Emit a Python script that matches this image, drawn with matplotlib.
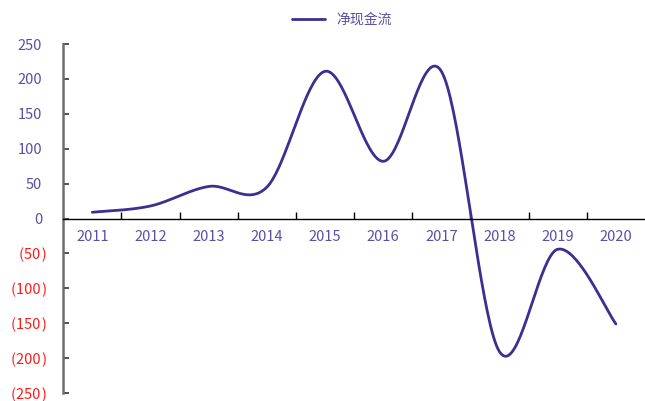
import numpy as np
import matplotlib
matplotlib.use("Agg")
import matplotlib.pyplot as plt
from matplotlib.ticker import FixedLocator
from matplotlib.transforms import blended_transform_factory, offset_copy

plt.rcParams['font.family'] = ['Noto Sans CJK SC', 'DejaVu Sans']

years = ['2011', '2012', '2013', '2014', '2015', '2016', '2017', '2018', '2019', '2020']
net_cash_flow = [9, 18, 46, 45, 211, 82, 211, -191, -44, -151]
y_ticks = [250, 200, 150, 100, 50, 0, -50, -100, -150, -200, -250]
series_name = '净现金流'

line_color = '#3B2F91'
label_color = '#5A4EA6'
neg_color = '#FF1A1A'


def smooth(xs, ys, n=40):
    pts = np.column_stack([xs, ys]).astype(float)
    out = []
    m = len(pts)
    for i in range(m - 1):
        p0 = pts[i]
        p3 = pts[i + 1]
        pm = pts[i - 1] if i > 0 else pts[i]
        pp = pts[i + 2] if i + 2 < m else pts[i + 1]
        p1 = p0 + (p3 - pm) / 6.0
        p2 = p3 - (pp - p0) / 6.0
        t = np.linspace(0, 1, n)[:, None]
        seg = ((1 - t) ** 3) * p0 + 3 * ((1 - t) ** 2) * t * p1 + 3 * (1 - t) * t ** 2 * p2 + t ** 3 * p3
        out.append(seg if i == 0 else seg[1:])
    out = np.vstack(out)
    return out[:, 0], out[:, 1]


fig = plt.figure(figsize=(6.45, 4.01), dpi=100)
ax = fig.add_axes([0.098, 0.02, 0.902, 0.87])

x = np.arange(len(years))
sx, sy = smooth(x, net_cash_flow)
ax.plot(sx, sy, color=line_color, lw=2.0, solid_capstyle='round', label=series_name)

ax.set_xlim(-0.5, len(years) - 0.5)
ax.set_ylim(-250, 250)

for s in ['top', 'right']:
    ax.spines[s].set_visible(False)
ax.spines['bottom'].set_position(('data', 0))
ax.spines['bottom'].set_color('black')
ax.spines['bottom'].set_linewidth(1.0)
ax.spines['left'].set_color('#6E6E6E')
ax.spines['left'].set_linewidth(1.8)

# y ticks with manually placed labels (Excel-style "#,##0_);(#,##0)" format)
ax.set_yticks(y_ticks)
ax.set_yticklabels([])
ax.tick_params(axis='y', direction='in', length=4, width=1.2, color='#333333')
trans = blended_transform_factory(ax.transAxes, ax.transData)
for v in y_ticks:
    if v >= 0:
        tr = offset_copy(trans, fig=fig, x=-21, y=-1.5, units='dots')
        ax.text(0, v, str(v), transform=tr, ha='right', va='center',
                fontsize=10.5, color=label_color)
    else:
        tr = offset_copy(trans, fig=fig, x=-16, y=-1.5, units='dots')
        ax.text(0, v, '(%d\u200a)' % (-v), transform=tr, ha='right', va='center',
                fontsize=10.5, color=neg_color)

ax.xaxis.set_major_locator(FixedLocator(np.arange(0.5, len(years) - 0.5, 1.0)))
ax.xaxis.set_minor_locator(FixedLocator(x))
ax.set_xticklabels([], minor=False)
ax.set_xticklabels(years, minor=True)
ax.tick_params(axis='x', which='major', direction='in', length=5, width=1.0, color='black')
ax.tick_params(axis='x', which='minor', length=0, pad=8, labelsize=10.5, labelcolor=label_color)

leg = fig.legend(loc='upper center', bbox_to_anchor=(0.53, 1.0), frameon=False,
                 handlelength=2.4, fontsize=10)
for t in leg.get_texts():
    t.set_color(label_color)

fig.savefig('out.png', dpi=100)
